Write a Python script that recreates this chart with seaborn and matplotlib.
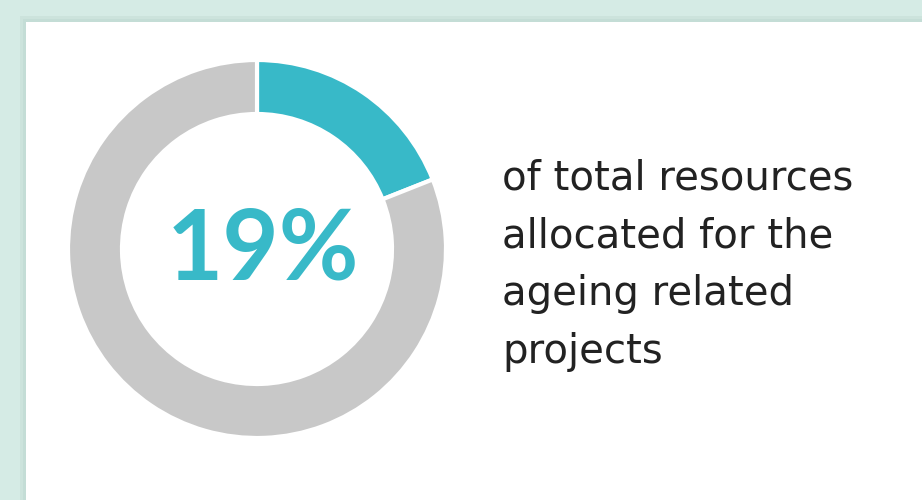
import matplotlib
matplotlib.use("Agg")
import matplotlib.pyplot as plt
from matplotlib.patches import Rectangle
import seaborn as sns

# Data
labels = ["Ageing related projects", "Other"]
values = [19, 81]
colors = ["#38b9c8", "#c8c8c8"]
big_label = "19%"
caption_lines = ["of total resources", "allocated for the", "ageing related", "projects"]

sns.set_theme(style="white")
plt.rcParams['font.family'] = ['DejaVu Sans']

W, H = 922, 500
fig = plt.figure(figsize=(W / 100, H / 100), dpi=100)
fig.patch.set_facecolor("#d5ebe5")

# shadow + white panel
fig.add_artist(Rectangle((20 / W, 0), 1, 1 - 16 / H, transform=fig.transFigure,
                         facecolor="#cce3dc", edgecolor="none", zorder=-3))
fig.add_artist(Rectangle((23 / W, 0), 1, 1 - 19 / H, transform=fig.transFigure,
                         facecolor="#c4ddd6", edgecolor="none", zorder=-2))
fig.add_artist(Rectangle((26 / W, 0), 1, 1 - 22 / H, transform=fig.transFigure,
                         facecolor="white", edgecolor="none", zorder=-1))

cx, cy, r = 257, 249, 189
ax = fig.add_axes([(cx - r) / W, (H - cy - r) / H, 2 * r / W, 2 * r / H])
ax.set_zorder(2)
ax.set_facecolor("none")
ax.pie(values, colors=colors, startangle=90, counterclock=False, radius=1,
       wedgeprops=dict(width=54 / 189, edgecolor="white", linewidth=3))
ax.set_xlim(-1, 1)
ax.set_ylim(-1, 1)
ax.set_aspect("equal")
ax.axis("off")

ax.text(0.03, -0.01, big_label, ha="center", va="center", fontsize=70,
        fontweight="bold", color=colors[0], family=["Lato", "DejaVu Sans"])

y0 = H - 190
for i, line in enumerate(caption_lines):
    fig.text(502 / W, (y0 - i * 57.5) / H, line, ha="left", va="baseline",
             fontsize=29, color="#222222", zorder=3)

fig.savefig("out.png", dpi=100)
